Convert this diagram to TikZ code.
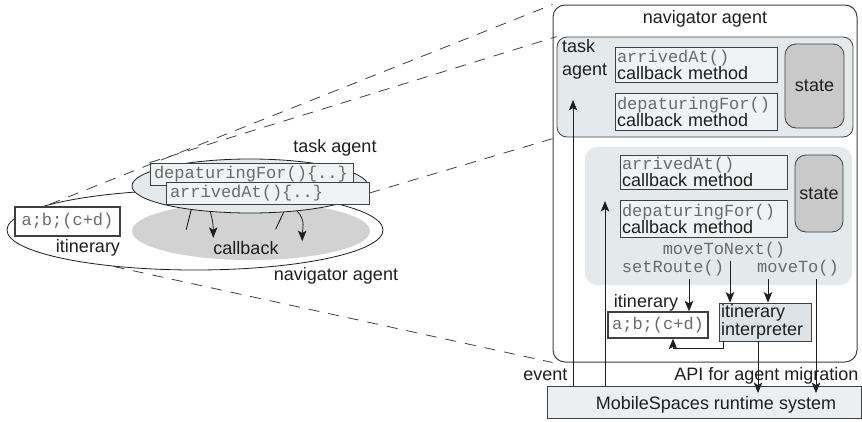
\documentclass[tikz,border=0pt]{standalone}
\usepackage{fontspec}
\setmainfont{Liberation Sans}
\setmonofont{Liberation Mono}
\usepackage{tikz}
\usetikzlibrary{
  arrows.meta,
  positioning,
  shapes.geometric
}
\definecolor{txtblack}{HTML}{1E1E1E}
\definecolor{edgegray}{HTML}{404040}
\definecolor{codegray}{HTML}{6A6A6A}
\definecolor{agentbg}{HTML}{E4E9EB}
\definecolor{boxbg}{HTML}{F0F3F4}
\definecolor{statebg}{HTML}{C9C9C9}
\definecolor{interbg}{HTML}{DDE3E6}
\definecolor{rtbg}{HTML}{ECEFF1}
\definecolor{callgray}{HTML}{D2D2D2}

\newcommand{\apicode}[1]{{\fontsize{17}{17}\selectfont\ttfamily\color{codegray}#1}}

\begin{document}
\begin{tikzpicture}[
  x=1pt, y=-1pt,
  every node/.style={font=\fontsize{18}{20}\selectfont, text=txtblack},
  navbox/.style={
    draw=edgegray, line width=1pt, fill=white,
    rounded corners=12pt, inner sep=0pt
  },
  agentbox/.style={
    draw=edgegray, line width=0.8pt, fill=agentbg,
    rounded corners=10pt, inner sep=0pt
  },
  methodbox/.style={
    draw=edgegray, line width=0.8pt, fill=boxbg,
    text width=158pt, align=left, inner xsep=2pt, inner ysep=1pt,
    font=\fontsize{18}{17}\selectfont
  },
  statebox/.style={
    draw=edgegray, line width=0.8pt, fill=statebg,
    rounded corners=11pt, inner sep=0pt
  },
  databox/.style={
    draw=edgegray, line width=1.4pt, fill=white, inner sep=2pt
  },
  codebox/.style={
    draw=edgegray, line width=0.8pt, fill=boxbg,
    align=left, inner xsep=4pt, inner ysep=1pt
  },
  interpbox/.style={
    draw=edgegray, line width=0.8pt, fill=interbg,
    text width=88pt, align=left, inner xsep=2pt, inner ysep=1pt,
    font=\fontsize{18}{18}\selectfont
  },
  rtbox/.style={draw=edgegray, line width=0.8pt, fill=rtbg, inner sep=0pt},
  codelabel/.style={font=\fontsize{17}{17}\selectfont\ttfamily, text=codegray},
  navell/.style={ellipse, draw=txtblack, line width=0.8pt, fill=white, inner sep=0pt},
  callell/.style={ellipse, fill=callgray, inner sep=0pt},
  taskell/.style={ellipse, draw=txtblack, line width=0.8pt, fill=agentbg, inner sep=0pt},
  flow/.style={draw=txtblack, line width=0.8pt,
    -{Stealth[length=10.5pt, width=8.5pt, inset=2.5pt]}},
  proj/.style={draw=edgegray, line width=0.8pt, dash pattern=on 11pt off 9pt}
]
\useasboundingbox (0,0) rectangle (862,421);

% NAVIGATOR AGENT (detail)
\node[navbox, minimum width=304pt, minimum height=357pt] (navR) at (705,183.5) {};
\node (navRtitle) at (705,19) {navigator agent};

% task agent with its callbacks
\node[agentbox, minimum width=296pt, minimum height=100pt] (taskR) at (705,87) {};
\node[anchor=north west, align=left, inner sep=1pt,
  font=\fontsize{18}{23}\selectfont] (taskRtitle) at (561,38) {task\\agent};
\node[methodbox, minimum height=35pt] (arrivedR) at (696,64.5)
  {\apicode{arrivedAt()}\\callback method};
\node[methodbox, minimum height=37pt] (depR) at (696,111.5)
  {\apicode{depaturingFor()}\\callback method};
\node[statebox, minimum width=59pt, minimum height=84pt] (stateR) at (814.5,86) {state};

% navigator's own part
\node[agentbox, draw=none, rounded corners=12pt,
  minimum width=267pt, minimum height=138pt] (navpart) at (718.5,216) {};
\node[methodbox, text width=163pt, minimum height=34pt] (arrivedR2) at (703.5,172)
  {\apicode{arrivedAt()}\\callback method};
\node[methodbox, text width=163pt, minimum height=37pt] (depR2) at (703.5,218.5)
  {\apicode{depaturingFor()}\\callback method};
\node[statebox, minimum width=48pt, minimum height=77pt] (stateR2) at (819,193.5) {state};

\node[codelabel] (movenext) at (724,250) {moveToNext()};
\node[codelabel] (setroute) at (673,268) {setRoute()};
\node[codelabel] (moveto) at (798,268) {moveTo()};

% itinerary and interpreter
\node (itinRtitle) at (646,303) {itinerary};
\node[databox, minimum width=100pt, minimum height=26pt] (itinR) at (658,325)
  {\apicode{a;b;(c+d)}};
\node[interpbox, minimum height=38pt] (interp) at (765,322)
  {itinerary\\interpreter};

% RUNTIME SYSTEM
\node[rtbox, minimum width=314pt, minimum height=32pt] (runtime) at (704,402) {};
\node (rtlabel) at (716,405) {MobileSpaces runtime system};
\node[anchor=east] (apilabel) at (862,376) {API for agent migration};
\node[anchor=east] (eventlabel) at (571,375) {event};

% events and calls
\coordinate (evtA) at (573,100);
\coordinate (evtB) at (605,201);
\draw[flow] (runtime.north -| evtA) -- (evtA);
\draw[flow] (runtime.north -| evtB) -- (evtB);

\draw[flow] ([xshift=16pt]setroute.south) -- ([xshift=16pt]setroute.south |- itinR.north);
\draw[flow] ([xshift=6pt]movenext.south) -- ([xshift=6pt]movenext.south |- interp.north);
\draw[flow] ([xshift=-30pt]moveto.south) -- ([xshift=-30pt]moveto.south |- interp.north);
\draw[flow] ([xshift=18pt]moveto.south) -- ([xshift=18pt]moveto.south |- rtlabel.north);
\draw[flow] ([xshift=-7pt]interp.south) -- ([xshift=-7pt]interp.south |- rtlabel.north);
\draw[flow] ([xshift=-42pt]interp.south) -- ++(0,7) -| ([xshift=15pt]itinR.south);

% NAVIGATOR AGENT (overview)
\node[navell, minimum width=376pt, minimum height=80pt] (navL) at (195,230) {};
\node[callell, minimum width=238pt, minimum height=58pt] (callL) at (251,231) {};
\node[taskell, minimum width=236pt, minimum height=54pt] (taskL) at (250,186) {};

\node[codebox, text width=195pt, minimum height=22pt] (depL) at (251.5,174)
  {\apicode{depaturingFor()\{..\}}};
\node[codebox, text width=195pt, minimum height=22pt] (arrL) at (267.5,193)
  {\apicode{arrivedAt()\{..\}}};
\node[databox, minimum width=105pt, minimum height=29pt] (itinL) at (67.5,221.5)
  {\apicode{a;b;(c+d)}};

\node (itinLtitle) at (88,248) {itinerary};
\node (callLtitle) at (246,248) {callback};
\node (taskLtitle) at (335,148) {task agent};
\node (navLtitle) at (336,276) {navigator agent};

% callback strokes
\draw[line width=0.8pt] (taskL.202) -- ++(-5,20);
\draw[flow] (taskL.213) .. controls +(3,10) and +(0,-10) .. ++(3,26);
\draw[line width=0.8pt] (taskL.322) -- ++(-8,17);
\draw[flow] (taskL.332) .. controls +(9,10) and +(0,-12) .. ++(5,30);

% projection lines
\draw[proj] (navL.170) -- (navR.north west);
\draw[proj] (depL.north west) -- (taskR.north west);
\draw[proj] (arrL.east) -- (taskR.south west);
\draw[proj] (navL.204) -- (navR.south west);

\end{tikzpicture}
\end{document}
